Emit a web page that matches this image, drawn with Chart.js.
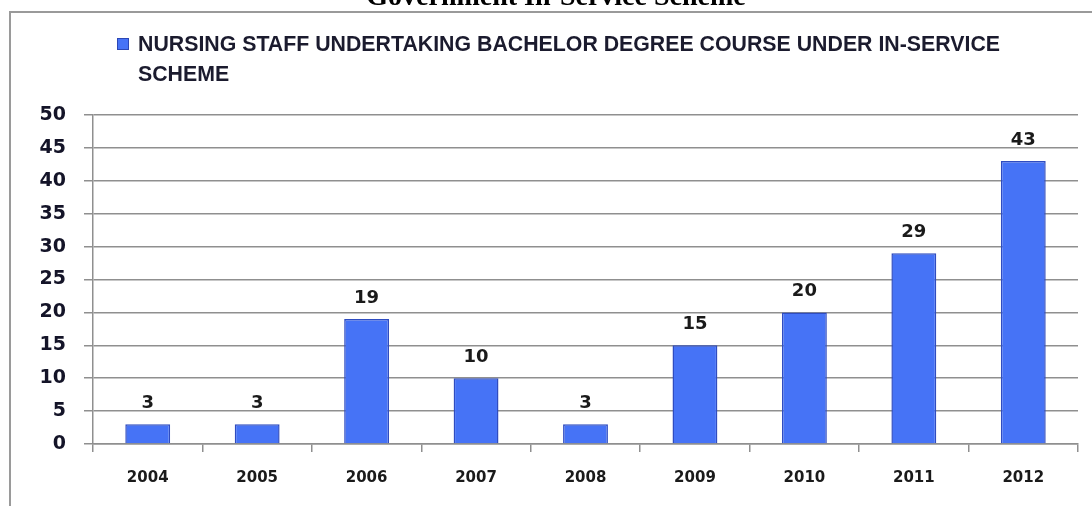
<!DOCTYPE html>
<html>
<head>
<meta charset="utf-8">
<script src="https://cdn.jsdelivr.net/npm/chart.js@4.4.1/dist/chart.umd.min.js"></script>
<style>
  html, body { margin: 0; padding: 0; background: #fff; }
  #wrap { width: 1092px; height: 506px; position: relative; }
</style>
</head>
<body>
<div id="wrap"><canvas id="nursingChart"></canvas></div>
<script>
// years and number of nursing staff
var years = ["2004", "2005", "2006", "2007", "2008", "2009", "2010", "2011", "2012"];
var staff = [3, 3, 19, 10, 3, 15, 20, 29, 43];
var legendLines = ["NURSING STAFF UNDERTAKING BACHELOR DEGREE COURSE UNDER IN-SERVICE", "SCHEME"];
var heading = "Government In-Service Scheme";

var barBlue = "#4673f6";
var gridGrey = "#8f8f8f";

// frame, heading and the two-line legend
var framePlugin = {
  id: "frame",
  beforeDraw: function (chart) {
    var ctx = chart.ctx;
    ctx.save();
    ctx.fillStyle = "#fff";
    ctx.fillRect(0, 0, chart.width, chart.height);
    ctx.strokeStyle = "#9a9a9a";
    ctx.lineWidth = 2;
    ctx.strokeRect(10, 12, 1200, 600);

    ctx.fillStyle = "#000";
    ctx.font = "bold 28px 'Liberation Serif'";
    ctx.textAlign = "center";
    ctx.textBaseline = "alphabetic";
    ctx.fillText(heading, 556, 5, 440);

    // legend swatch
    ctx.fillStyle = barBlue;
    ctx.fillRect(117, 38, 12, 12);
    ctx.strokeStyle = "#2c47b5";
    ctx.lineWidth = 1;
    ctx.strokeRect(117.5, 38.5, 11, 11);

    ctx.fillStyle = "#1b1b2e";
    ctx.font = "bold 22px 'Liberation Sans'";
    ctx.textAlign = "left";
    ctx.textBaseline = "middle";
    var full = ctx.measureText(legendLines[0]).width;
    var squeeze = Math.min(1, 862 / full);
    ctx.fillText(legendLines[0], 138, 45, 862);
    ctx.fillText(legendLines[1], 138, 75, ctx.measureText(legendLines[1]).width * squeeze);
    ctx.restore();
  }
};

// numbers above each bar
var valuePlugin = {
  id: "values",
  afterDatasetsDraw: function (chart) {
    var ctx = chart.ctx;
    var meta = chart.getDatasetMeta(0);
    ctx.save();
    ctx.fillStyle = "#1a1a1a";
    ctx.font = "600 18px 'DejaVu Sans'";
    ctx.textAlign = "center";
    ctx.textBaseline = "middle";
    meta.data.forEach(function (bar, i) {
      ctx.fillText(String(staff[i]), bar.x, bar.y - 21);
    });
    ctx.restore();
  }
};

new Chart(document.getElementById("nursingChart"), {
  type: "bar",
  data: {
    labels: years,
    datasets: [{
      label: legendLines.join(" "),
      data: staff,
      backgroundColor: barBlue,
      borderColor: "#2f4cc0",
      borderWidth: 1.5,
      barPercentage: 0.41,
      categoryPercentage: 1
    }]
  },
  options: {
    responsive: true,
    maintainAspectRatio: false,
    animation: false,
    layout: { padding: { top: 115, right: 14, left: 0, bottom: 0 } },
    plugins: {
      legend: { display: false },
      tooltip: { enabled: false }
    },
    scales: {
      x: {
        grid: {
          offset: true,
          drawOnChartArea: false,
          tickLength: 8,
          color: gridGrey,
          lineWidth: 1.5
        },
        border: { color: gridGrey, width: 1.5 },
        ticks: {
          color: "#1a1a1a",
          font: { family: "DejaVu Sans", size: 15, weight: "bold" },
          padding: 17
        },
        afterFit: function (scale) { scale.height = 62; }
      },
      y: {
        min: 0,
        max: 50,
        ticks: {
          stepSize: 5,
          color: "#141428",
          font: { family: "DejaVu Sans", size: 19, weight: "600" },
          padding: 18
        },
        grid: {
          color: gridGrey,
          lineWidth: 1.5,
          tickLength: 9
        },
        border: { color: gridGrey, width: 1.5 },
        afterFit: function (scale) { scale.width = 93; }
      }
    }
  },
  plugins: [framePlugin, valuePlugin]
});
</script>
</body>
</html>
